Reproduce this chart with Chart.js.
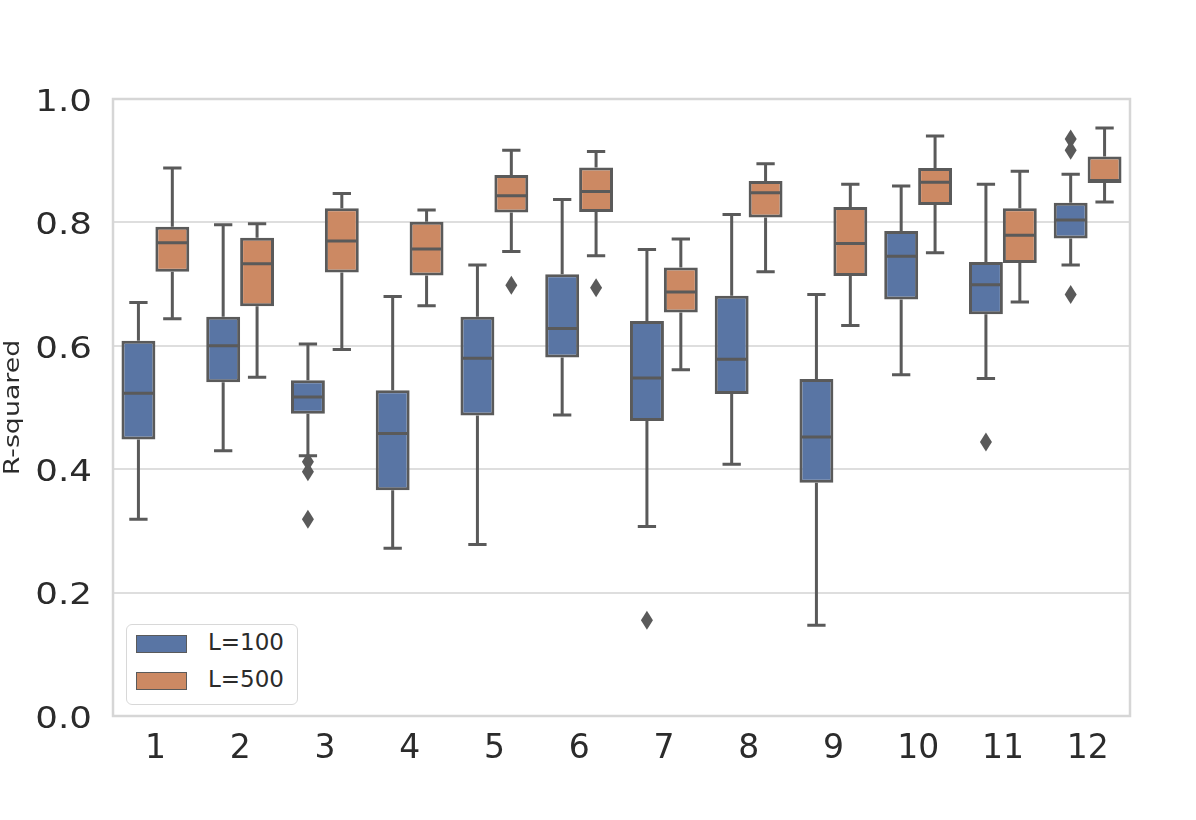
<!DOCTYPE html>
<html>
<head>
<meta charset="utf-8">
<script src="https://cdn.jsdelivr.net/npm/chart.js@4.4.1/dist/chart.umd.min.js"></script>
<style>
    body { margin: 0; background: #fff; }
    #wrap { position: relative; width: 1196px; height: 820px; }
    #legend {
        position: absolute; left: 126px; top: 624px; width: 170px; height: 79px;
        border: 1.5px solid #d8d8d8; border-radius: 6px; background: #fff;
        font-family: "DejaVu Sans", sans-serif; font-size: 23px; color: #2b2b2b;
    }
    .item { position: absolute; left: 9px; height: 18px; }
    .patch { position: absolute; left: 0; top: 0; width: 49px; height: 16px; border: 1.5px solid #5a5a5a; }
    .label { position: absolute; left: 72px; top: -6px; white-space: nowrap; }
</style>
</head>
<body>
<div id="wrap">
    <canvas id="boxChart" width="1196" height="820"></canvas>
    <div id="legend">
        <div class="item" style="top: 10px;"><div class="patch" style="background: #5975a4;"></div><div class="label">L=100</div></div>
        <div class="item" style="top: 47px;"><div class="patch" style="background: #cc8963;"></div><div class="label">L=500</div></div>
    </div>
</div>
<script>
const categories = ['1', '2', '3', '4', '5', '6', '7', '8', '9', '10', '11', '12'];

// L=100 box stats
const l100Low    = [0.319, 0.430, 0.422, 0.272, 0.278, 0.488, 0.307, 0.408, 0.147, 0.553, 0.547, 0.731];
const l100Q1     = [0.448, 0.541, 0.490, 0.366, 0.487, 0.581, 0.478, 0.522, 0.378, 0.675, 0.651, 0.774];
const l100Median = [0.523, 0.600, 0.517, 0.458, 0.580, 0.628, 0.548, 0.578, 0.452, 0.745, 0.699, 0.804];
const l100Q3     = [0.608, 0.647, 0.544, 0.528, 0.647, 0.716, 0.640, 0.681, 0.546, 0.786, 0.736, 0.832];
const l100High   = [0.670, 0.796, 0.603, 0.680, 0.731, 0.837, 0.756, 0.813, 0.683, 0.859, 0.862, 0.878];
const l100Outliers = [[], [], [0.412, 0.396, 0.319], [], [], [], [0.155], [], [], [], [0.444], [0.935, 0.917, 0.683]];

// L=500 box stats
const l500Low    = [0.644, 0.549, 0.594, 0.665, 0.753, 0.746, 0.561, 0.720, 0.633, 0.751, 0.671, 0.833];
const l500Q1     = [0.720, 0.664, 0.719, 0.714, 0.816, 0.817, 0.654, 0.808, 0.713, 0.828, 0.734, 0.864];
const l500Median = [0.767, 0.733, 0.770, 0.757, 0.843, 0.850, 0.687, 0.848, 0.766, 0.865, 0.779, 0.868];
const l500Q3     = [0.793, 0.775, 0.823, 0.801, 0.877, 0.889, 0.727, 0.867, 0.825, 0.888, 0.823, 0.907];
const l500High   = [0.888, 0.798, 0.847, 0.820, 0.917, 0.915, 0.773, 0.895, 0.862, 0.940, 0.883, 0.953];
const l500Outliers = [[], [], [], [], [0.698], [0.694], [], [], [], [], [], []];

const yTicks = [0, 0.2, 0.4, 0.6, 0.8, 1.0];
const yTitle = 'R-squared';

const edgeColor = '#5a5a5a';
const textColor = '#2b2b2b';

const boxStats = [
    { low: l100Low, median: l100Median, high: l100High, outliers: l100Outliers },
    { low: l500Low, median: l500Median, high: l500High, outliers: l500Outliers }
];

// whiskers, caps, medians, outliers and the frame, all placed through the chart's scales
const boxExtras = {
    id: 'boxExtras',
    afterDatasetsDraw(chart) {
        const ctx = chart.ctx;
        const y = chart.scales.y;
        ctx.save();
        ctx.strokeStyle = edgeColor;
        ctx.fillStyle = edgeColor;
        ctx.lineWidth = 3;
        boxStats.forEach((stats, d) => {
            const meta = chart.getDatasetMeta(d);
            meta.data.forEach((bar, i) => {
                const x = bar.x;
                const half = bar.width / 2;
                const capHalf = bar.width * 0.27;
                const [q1, q3] = chart.data.datasets[d].data[i];
                const pLow = y.getPixelForValue(stats.low[i]);
                const pHigh = y.getPixelForValue(stats.high[i]);
                const pQ1 = y.getPixelForValue(q1);
                const pQ3 = y.getPixelForValue(q3);
                const pMed = y.getPixelForValue(stats.median[i]);

                ctx.beginPath();
                ctx.moveTo(x, pQ1); ctx.lineTo(x, pLow);
                ctx.moveTo(x, pQ3); ctx.lineTo(x, pHigh);
                ctx.moveTo(x - capHalf, pLow); ctx.lineTo(x + capHalf, pLow);
                ctx.moveTo(x - capHalf, pHigh); ctx.lineTo(x + capHalf, pHigh);
                ctx.moveTo(x - half + 1, pMed); ctx.lineTo(x + half - 1, pMed);
                ctx.stroke();

                stats.outliers[i].forEach(v => {
                    const py = y.getPixelForValue(v);
                    ctx.beginPath();
                    ctx.moveTo(x, py - 9.5);
                    ctx.lineTo(x + 6, py);
                    ctx.lineTo(x, py + 9.5);
                    ctx.lineTo(x - 6, py);
                    ctx.closePath();
                    ctx.fill();
                });
            });
        });
        const area = chart.chartArea;
        ctx.strokeStyle = '#d6d6d6';
        ctx.lineWidth = 2.5;
        ctx.strokeRect(area.left, area.top, area.right - area.left, area.bottom - area.top);
        ctx.restore();
    },
    // the y texts in the picture are drawn wider than normal, so stretch them a bit
    afterDraw(chart) {
        const ctx = chart.ctx;
        const y = chart.scales.y;
        ctx.save();
        ctx.fillStyle = textColor;
        ctx.font = '31px "DejaVu Sans"';
        ctx.textAlign = 'right';
        ctx.textBaseline = 'alphabetic';
        yTicks.forEach(v => {
            ctx.save();
            ctx.translate(92, y.getPixelForValue(v) + 11.8);
            ctx.scale(1.15, 1);
            ctx.fillText(v.toFixed(1), 0, 0);
            ctx.restore();
        });
        const mid = (chart.chartArea.top + chart.chartArea.bottom) / 2;
        ctx.font = '22px "DejaVu Sans"';
        ctx.textAlign = 'center';
        ctx.textBaseline = 'middle';
        ctx.translate(13, mid);
        ctx.rotate(-Math.PI / 2);
        ctx.scale(1.22, 1);
        ctx.fillText(yTitle, 0, 0);
        ctx.restore();
    }
};

function drawChart() {
    const canvas = document.getElementById('boxChart');
    const ctx = canvas.getContext('2d');

    new Chart(ctx, {
        type: 'bar',
        data: {
            labels: categories,
            datasets: [{
                label: 'L=100',
                data: categories.map((c, i) => [l100Q1[i], l100Q3[i]]),
                backgroundColor: '#5975a4',
                borderColor: edgeColor,
                borderWidth: 3,
                borderSkipped: false,
                categoryPercentage: 0.8,
                barPercentage: 1.0
            }, {
                label: 'L=500',
                data: categories.map((c, i) => [l500Q1[i], l500Q3[i]]),
                backgroundColor: '#cc8963',
                borderColor: edgeColor,
                borderWidth: 3,
                borderSkipped: false,
                categoryPercentage: 0.8,
                barPercentage: 1.0
            }]
        },
        options: {
            responsive: false,
            animation: false,
            devicePixelRatio: 1,
            layout: { padding: { top: 99, right: 66, left: 0, bottom: 0 } },
            plugins: {
                legend: { display: false },
                tooltip: { enabled: false }
            },
            scales: {
                x: {
                    grid: { display: false, drawTicks: false },
                    border: { display: false },
                    ticks: {
                        color: textColor,
                        font: { family: 'DejaVu Sans', size: 33 },
                        padding: 14
                    },
                    afterFit(scale) { scale.height = 104; }
                },
                y: {
                    min: 0,
                    max: 1,
                    afterBuildTicks(scale) { scale.ticks = yTicks.map(v => ({ value: v })); },
                    grid: { color: '#dedede', lineWidth: 2, drawTicks: false },
                    border: { display: false },
                    ticks: { display: false },
                    afterFit(scale) { scale.width = 113; }
                }
            }
        },
        plugins: [boxExtras]
    });
}

window.onload = drawChart;
</script>
</body>
</html>
